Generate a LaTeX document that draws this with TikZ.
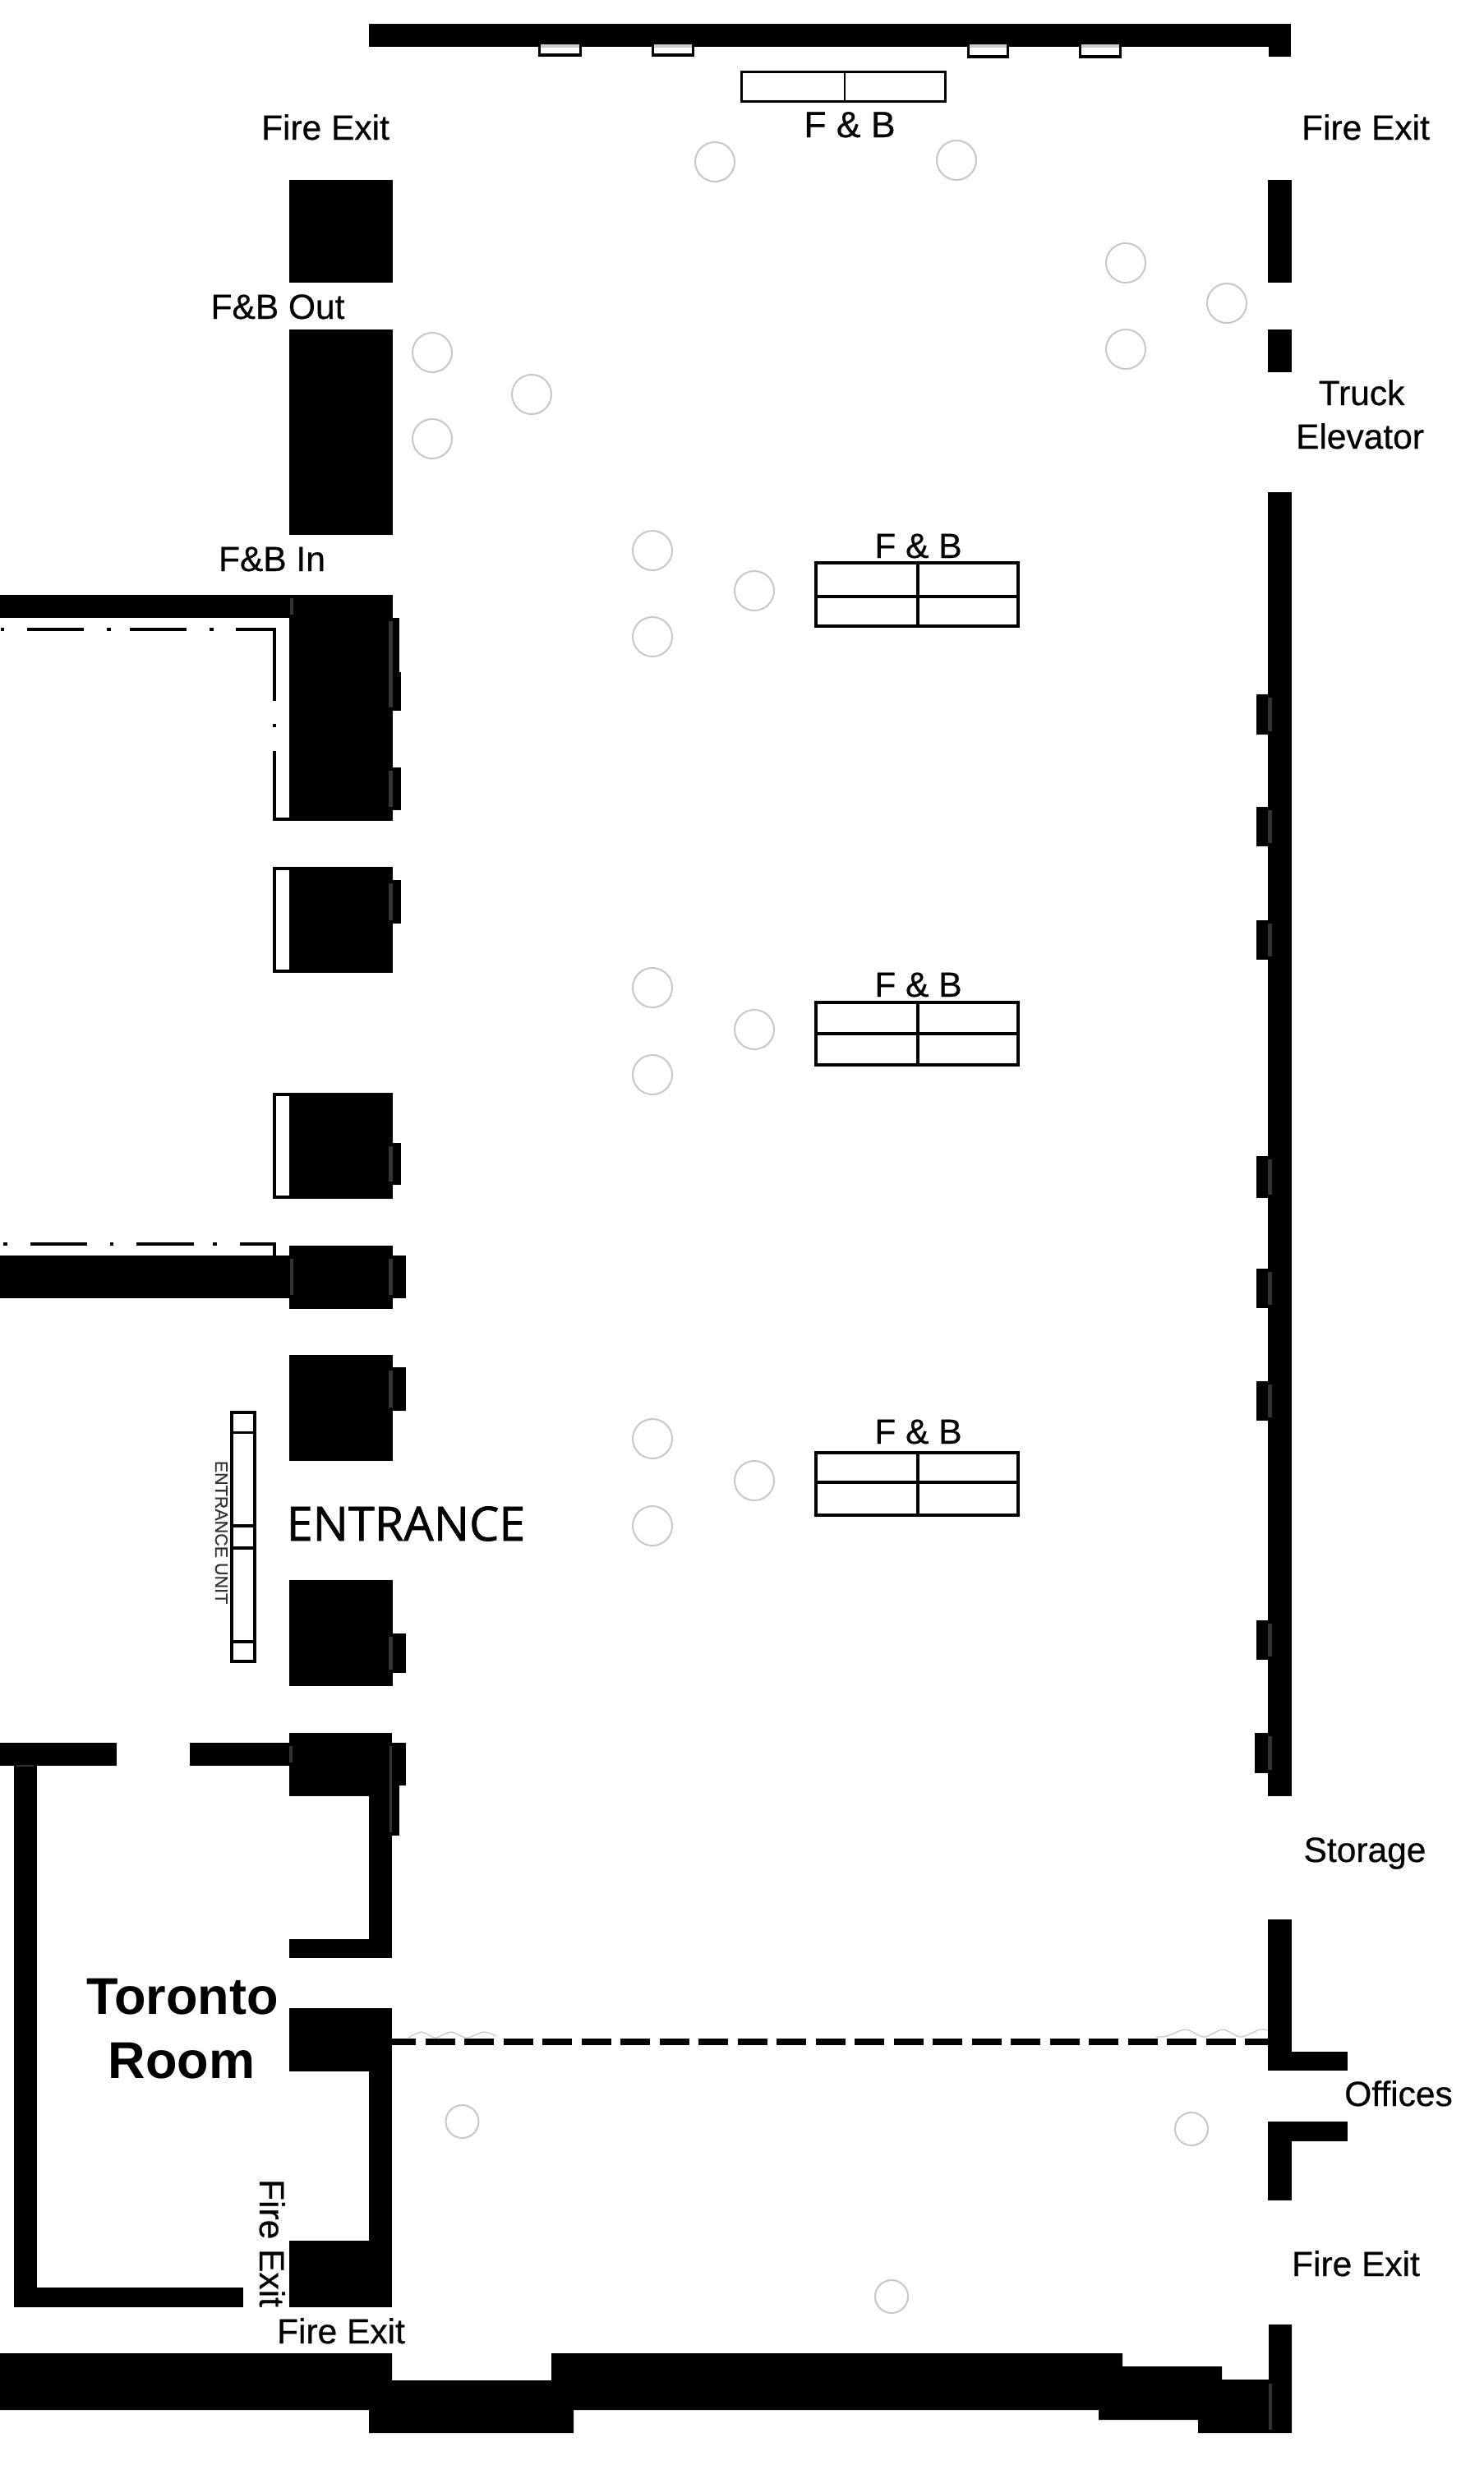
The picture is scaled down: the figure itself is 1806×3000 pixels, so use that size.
\documentclass[tikz,border=0pt]{standalone}
\usepackage{fontspec}
\setmainfont{Liberation Sans}[RawFeature={embolden=0.5}]
\newfontfamily\plainbold{Liberation Sans Bold}
\newfontfamily\entfont{Open Sans}[RawFeature={embolden=1.2}]
\newcommand{\fsz}[1]{\fontsize{#1}{#1}\selectfont}
\tikzset{
  wall/.style={fill=black},
  seam/.style={fill=black!80},
  lbl/.style={inner sep=0pt,outer sep=0pt,anchor=base,font=\fsz{42.5}},
  tablebox/.style={draw=black,line width=3.5pt,fill=white},
  column/.style={draw=black!22,line width=2pt,fill=none},
  faint/.style={draw=black!22,line width=1.2pt},
  outline/.style={draw=black,line width=4pt,fill=white}
}
\begin{document}
\begin{tikzpicture}[x=1pt,y=-1pt]
\useasboundingbox (0,0) rectangle (1806,3000);
\fill[white] (0,0) rectangle (1806,3000);

% top wall
\fill[wall] (449,29) rectangle (1571,57);
\fill[wall] (1544,57) rectangle (1571,69);
\foreach \a/\b/\c in {655/708/69,793/845/69,1177/1228/71,1313/1365/71}{
  \fill[wall] (\a,53) rectangle (\b,\c);
  \fill[white] (\a+3,54) rectangle (\b-3,\c-3.5);
  \fill[black!20] (\a+3,54) rectangle (\b-3,58);
}

% right wall
\fill[wall] (1543,219) rectangle (1572,344);
\fill[wall] (1543,401) rectangle (1572,453);
\fill[wall] (1543,599) rectangle (1572,2186);
\foreach \a/\b in {844.5/893.5,982/1030,1119.5/1168,1407/1458,1543.5/1592,1681/1729,1972/2020}{
  \fill[wall] (1529,\a) rectangle (1543,\b);
  \fill[seam] (1543,\a+4) rectangle (1547.5,\b-4);
}
\fill[wall] (1527,2109) rectangle (1543,2157.5);
\fill[seam] (1543,2113) rectangle (1547.5,2153.5);

% right wall, storage and offices
\fill[wall] (1543,2336) rectangle (1572,2520);
\fill[wall] (1572,2497) rectangle (1640,2520);
\fill[wall] (1543,2582) rectangle (1572,2678);
\fill[wall] (1572,2582) rectangle (1640,2606);

% bottom wall
\fill[wall] (0,2864) -- (477,2864) -- (477,2897) -- (671,2897) -- (671,2864)
  -- (1366,2864) -- (1366,2880) -- (1487,2880) -- (1487,2896) -- (1544,2896)
  -- (1544,2829) -- (1572,2829) -- (1572,2961) -- (1458,2961) -- (1458,2945)
  -- (1337,2945) -- (1337,2933) -- (698,2933) -- (698,2961) -- (449,2961)
  -- (449,2933) -- (0,2933) -- cycle;
\fill[seam] (1544,2901) rectangle (1547.5,2957);

% upper left piers
\fill[wall] (352,219) rectangle (477.5,344);
\fill[wall] (352,401) rectangle (477.5,651);

% first side room
\fill[wall] (0,724) rectangle (477.5,752);
\fill[wall] (352,752) rectangle (477.5,998.5);
\fill[wall] (332,995) rectangle (352.5,998.5);
\foreach \a/\b in {1/5,33/102,130/135,158/227,255/260,287/336}{
  \fill[wall] (\a,764) rectangle (\b,768);
}
\fill[wall] (332,764) rectangle (336,853);
\fill[wall] (332,881) rectangle (336,885);
\fill[wall] (332,913.5) rectangle (336,998.5);
\fill[seam] (352.5,728) rectangle (356.5,748);
\fill[wall] (477,752) rectangle (486,818);
\fill[wall] (477,818) rectangle (488,865);
\fill[seam] (473,756) rectangle (477.5,861);
\fill[wall] (477,934) rectangle (488,986);
\fill[seam] (473,938) rectangle (477.5,982);

\draw[outline] (334,1057) rectangle (354,1182);
\fill[wall] (352.5,1055) rectangle (477.5,1184);
\fill[wall] (477,1071) rectangle (488,1124);
\fill[seam] (473,1075) rectangle (477.5,1120);

\draw[outline] (334,1332) rectangle (354,1457);
\fill[wall] (352.5,1330) rectangle (477.5,1459);
\fill[wall] (477,1390.5) rectangle (488,1442);
\fill[seam] (473,1394.5) rectangle (477.5,1438);

% wall below first side room
\foreach \a/\b in {4/9,37/106,134/138,166/236,259/264,292/336}{
  \fill[wall] (\a,1511.5) rectangle (\b,1515.5);
}
\fill[wall] (332,1511.5) rectangle (336,1528);
\fill[wall] (0,1528) rectangle (352,1579.5);
\fill[wall] (352,1516) rectangle (477.5,1593);
\fill[wall] (477,1528) rectangle (493.5,1579.5);
\fill[seam] (352.5,1532) rectangle (356.5,1575.5);
\fill[seam] (473,1532) rectangle (477.5,1575.5);

% entrance piers
\fill[wall] (352,1649) rectangle (477.5,1778);
\fill[wall] (477,1664) rectangle (493.6,1717);
\fill[seam] (473,1668) rectangle (477.5,1713);
\fill[wall] (352,1923) rectangle (477.5,2052);
\fill[wall] (477,1988) rectangle (493.6,2036);
\fill[seam] (473,1992) rectangle (477.5,2032);

% entrance unit
\draw[black,line width=3.5pt,fill=white] (282,1719) rectangle (310,2022);
\foreach \y in {1743.5,1857,1884,1998}{
  \draw[black,line width=3.5pt] (282,\y) -- (310,\y);
}

% Toronto Room
\fill[wall] (0,2121) rectangle (142,2149);
\fill[wall] (231,2121) rectangle (352,2149);
\fill[wall] (17,2149) rectangle (45,2808);
\fill[seam] (20,2147.5) rectangle (41,2150);
\fill[wall] (17,2784) rectangle (295.5,2808);
\fill[wall] (352,2109) rectangle (477,2186);
\fill[wall] (449,2186) rectangle (477,2383);
\fill[wall] (352,2360) rectangle (477,2383);
\fill[wall] (477,2121) rectangle (494,2173);
\fill[wall] (477,2173) rectangle (486,2234);
\fill[seam] (473.5,2125) rectangle (476.5,2230);
\fill[seam] (352,2125) rectangle (356,2145);
\fill[wall] (352,2444) rectangle (477,2521);
\fill[wall] (449,2521) rectangle (477,2808);
\fill[wall] (352,2727) rectangle (477,2808);

% partition line and the faint arcs above it
\draw[faint] plot[smooth] coordinates {(497,2480) (513,2473) (530,2480) (549,2473) (568,2480) (589,2473) (604,2478)};
\draw[faint] plot[smooth] coordinates {(1407,2479) (1420,2478) (1443,2470) (1465,2479) (1488,2470) (1510,2479) (1533,2470) (1543,2471)};
\draw[black,line width=8pt,dash pattern=on 36pt off 11.5pt,dash phase=7pt] (477,2485) -- (1544,2485);

% columns
\foreach \x/\y in {870/197,1164/195,526/429,526/534,647/480,1370/320,1370/425,1493/369,
  794/670,794/775,918/719,794/1202,794/1308,918/1253,794/1751,794/1857,918/1802}{
  \draw[column] (\x,\y) circle (24pt);
}
\foreach \x/\y in {562.5/2582,1450/2591,1085/2795}{
  \draw[column] (\x,\y) circle (20pt);
}

% F & B tables
\draw[black,line width=3pt,fill=white] (902.5,88) rectangle (1150.5,124);
\draw[black,line width=2.5pt] (1028,88) -- (1028,124);
\foreach \t/\m/\b in {685/726/762,1220/1258/1296,1768/1804/1844}{
  \draw[tablebox] (993,\t) rectangle (1239,\b);
  \draw[black,line width=3.5pt] (993,\m) -- (1239,\m);
  \draw[black,line width=3.5pt] (1117,\t) -- (1117,\b);
}

% labels
\node[lbl,font=\fsz{44.5}] (fbtop) at (1034,167) {F \& B};
\node[lbl] (fb1) at (1117.5,679) {F \& B};
\node[lbl] (fb2) at (1117.5,1213) {F \& B};
\node[lbl] (fb3) at (1117.5,1757) {F \& B};
\node[lbl] (fireTL) at (396,170) {Fire Exit};
\node[lbl] (fireTR) at (1662,170) {Fire Exit};
\node[lbl] (fbout) at (338,388) {F\&B Out};
\node[lbl] (fbin) at (331,695) {F\&B In};
\node[lbl] (truck) at (1657,493) {Truck};
\node[lbl] (elevator) at (1655,546) {Elevator};
\node[lbl] (storage) at (1661,2266) {Storage};
\node[lbl] (offices) at (1702,2563) {Offices};
\node[lbl] (fireBR) at (1650,2770) {Fire Exit};
\node[lbl] (fireB) at (415,2852) {Fire Exit};
\node[lbl,rotate=-90] (fireV) at (316,2730) {Fire Exit};
\node[lbl,font=\plainbold\fsz{63}] (toronto) at (222,2451) {Toronto};
\node[lbl,font=\plainbold\fsz{63}] (room) at (221,2529) {Room};
\node[lbl,font=\entfont\fsz{57.5}] (entrance) at (494,1875) {ENTRANCE};
\node[lbl,rotate=-90,font=\fsz{21.5},text=black!80] (entunit) at (262,1865) {ENTRANCE UNIT};
\end{tikzpicture}
\end{document}
